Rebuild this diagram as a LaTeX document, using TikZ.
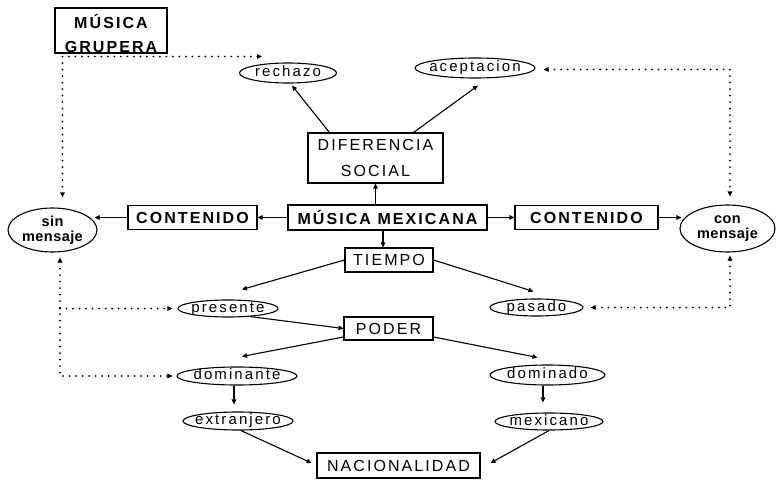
\documentclass[tikz,border=0pt]{standalone}
\usepackage{fontspec}
\setmainfont{Liberation Sans}
\newfontfamily\trackfont{Liberation Sans}[LetterSpace=13]
\newfontfamily\lowfont{Liberation Sans}[LetterSpace=14]
\newfontfamily\plainfont{Liberation Sans}[LetterSpace=3]
\usetikzlibrary{arrows.meta,shapes.geometric,calc}

\tikzset{
  box/.style={draw, line width=1.1pt, rectangle, inner sep=0pt, align=center,
    font=\trackfont\fontsize{16}{26}\selectfont},
  boldbox/.style={box, font=\trackfont\bfseries\fontsize{16}{26}\selectfont},
  oval/.style={draw, ellipse, line width=1.1pt, inner sep=0pt},
  lbl/.style={inner sep=0pt, align=center, font=\lowfont\fontsize{15}{16}\selectfont},
  wordlbl/.style={lbl, text height=7.8pt, text depth=0pt},
  boldlbl/.style={lbl, font=\plainfont\bfseries\fontsize{14.5}{15}\selectfont},
  link/.style={line width=1.1pt, ->},
  dots/.style={line width=2pt, line cap=round, dash pattern=on 0pt off 6.5pt},
}

\begin{document}
\begin{tikzpicture}[x=1pt, y=-1pt, >={Triangle[length=5pt,width=4.5pt]}]
\useasboundingbox (0,0) rectangle (776,481);

% nodes
\node[box, minimum width=112pt, minimum height=45pt,
  label={[lbl, font=\trackfont\bfseries\fontsize{16}{24}\selectfont, yshift=-2.5pt]center:{MÚSICA\\GRUPERA}}]
  (grupera) at (111,30.5) {};
\node[oval, minimum width=97pt, minimum height=20pt, label={[wordlbl]center:rechazo}] (rech) at (288,73) {};
\node[oval, minimum width=120pt, minimum height=20pt, label={[wordlbl]center:aceptacion}] (acep) at (475,68) {};
\node[box, minimum width=135pt, minimum height=50pt] (dif) at (375.5,158) {DIFERENCIA\\SOCIAL};
\node[boldbox, minimum width=199pt, minimum height=25pt] (mm) at (387.5,217.5) {MÚSICA MEXICANA};
\node[boldbox, minimum width=129pt, minimum height=24pt] (contl) at (192.5,217.5) {CONTENIDO};
\node[boldbox, minimum width=143pt, minimum height=24pt] (contr) at (586.5,217.5) {CONTENIDO};
\node[oval, minimum width=89pt, minimum height=44pt, label={[boldlbl]center:{sin\\mensaje}}] (sin) at (52.5,230) {};
\node[oval, minimum width=95pt, minimum height=47pt, label={[boldlbl]center:{con\\mensaje}}] (con) at (727.5,228.5) {};
\node[box, minimum width=88pt, minimum height=24pt] (tiempo) at (389,260) {TIEMPO};
\node[box, minimum width=89pt, minimum height=23pt] (poder) at (388.5,328.5) {PODER};
\node[oval, minimum width=100pt, minimum height=17pt, label={[wordlbl]center:presente}] (pres) at (228,308.5) {};
\node[oval, minimum width=93pt, minimum height=17pt, label={[wordlbl]center:pasado}] (pas) at (536.5,307.5) {};
\node[oval, minimum width=120pt, minimum height=18pt, label={[wordlbl]center:dominante}] (domte) at (237,376) {};
\node[oval, minimum width=115pt, minimum height=20pt, label={[wordlbl]center:dominado}] (domdo) at (547.5,375) {};
\node[oval, minimum width=110pt, minimum height=18pt, label={[wordlbl]center:extranjero}] (ext) at (238,421) {};
\node[oval, minimum width=108pt, minimum height=17pt, label={[wordlbl]center:mexicano}] (mex) at (549,421.5) {};
\node[box, minimum width=163pt, minimum height=25pt] (nac) at (398.5,465.5) {NACIONALIDAD};

% solid connectors
\draw[link] (mm.north -| dif.south) -- (dif.south);
\draw[link] ($(tiempo.north |- mm.south)+(-6pt,0pt)$) -- ($(tiempo.north)+(-6pt,0pt)$);
\draw[link] (mm.west) -- (contl.east);
\draw[link] (mm.east) -- (contr.west);
\draw[link] (contl.west) -- ($(sin.east |- contl.west)+(-3pt,0pt)$);
\draw[link] (contr.east) -- ($(con.west |- contr.east)+(2pt,0pt)$);
\draw[link] ($(dif.north west)+(22pt,0pt)$) -- ($(rech.south)+(4pt,-2pt)$);
\draw[link] ($(dif.north east)+(-30pt,0pt)$) -- ($(acep.south)+(3pt,-7pt)$);
\draw[link] (tiempo.west) -- ($(pres.north)+(14pt,10pt)$);
\draw[link] (tiempo.east) -- ($(pas.north)+(-3pt,7pt)$);
\draw[link] (pres.-20) -- (poder.west);
\draw[link] ($(poder.west)+(0pt,-8.5pt)$) -- ($(domte.north)+(5pt,10pt)$);
\draw[link] ($(poder.east)+(0pt,-8.5pt)$) -- ($(domdo.north)+(-10pt,7pt)$);
\draw[link] ($(domte.south)+(-3pt,0pt)$) -- ($(ext.north)+(-4pt,7pt)$);
\draw[link] ($(domdo.south)+(-4.5pt,0pt)$) -- ($(mex.north)+(-6pt,10pt)$);
\draw[link] ($(ext.south)+(3pt,0pt)$) -- ($(nac.west)+(-5pt,2.5pt)$);
\draw[link] (mex.south) -- ($(nac.east)+(10pt,2.5pt)$);

% dotted connectors
\coordinate (gc) at ($(grupera.south west)+(8pt,-3pt)$);
\draw[dots, <->] ($(gc -| rech.north)+(-26pt,0pt)$) -- (gc) -- ($(gc |- sin.north)+(0pt,10pt)$);

\coordinate (ac) at (730,69.5);
\draw[dots, <->] ($(ac -| acep.east)+(8pt,0pt)$) -- (ac) -- ($(ac |- con.north)+(0pt,8pt)$);

\coordinate (lc) at (60,376);
\draw[dots, <->] ($(lc |- sin.south)+(0pt,-5pt)$) -- (lc) -- ($(lc -| domte.west)+(-4pt,0pt)$);
\draw[dots, ->] (lc |- pres.west) -- ($(pres.west)+(-5pt,0pt)$);

\coordinate (rc) at (730,307.5);
\draw[dots, <->] ($(rc |- con.south)+(0pt,-3pt)$) -- (rc) -- ($(pas.east)+(7pt,0pt)$);
\end{tikzpicture}
\end{document}
